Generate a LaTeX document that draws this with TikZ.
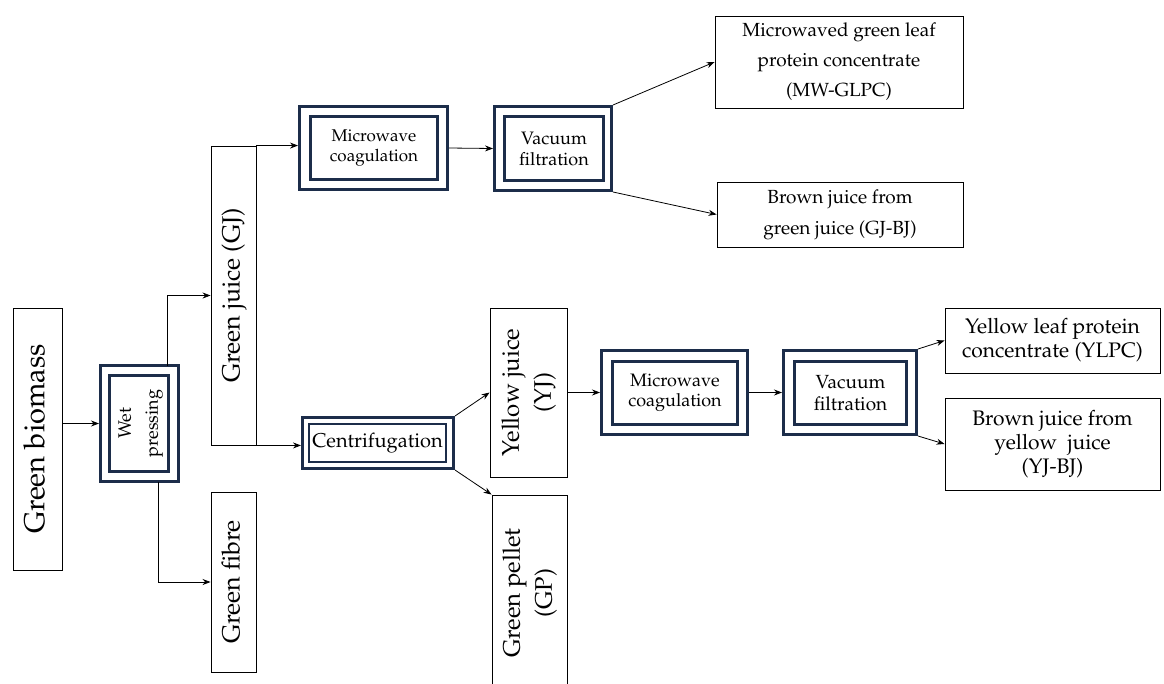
\documentclass[tikz,border=0pt]{standalone}
\usepackage[T1]{fontenc}
\usepackage{mathpazo}
\usepackage{graphicx}
\usetikzlibrary{arrows.meta}
\definecolor{navy}{RGB}{28,45,74}
\newcommand{\fs}[2]{\fontsize{#1}{#2}\selectfont}
\newcommand{\rt}[1]{\rotatebox{90}{\begin{tabular}{@{}c@{}}#1\end{tabular}}}
\begin{document}
\begin{tikzpicture}[x=1pt,y=-1pt,
  box/.style={draw=black, line width=0.9pt, inner sep=0pt, align=center},
  outerbox/.style={draw=navy, line width=3pt, inner sep=0pt},
  innerbox/.style={draw=navy, line width=3pt, inner sep=0pt, align=center},
  arr/.style={-{Stealth[length=8pt,width=6pt]}, line width=0.8pt},
  conn/.style={line width=0.8pt}]
\clip (0,0) rectangle (1164,683);
\fill[white] (0,0) rectangle (1164,683);

% product boxes
\node[box, font=\fs{29}{34}, minimum width=49, minimum height=262] (gb) at (37.5,439) {\rt{Green biomass}};
\node[box, font=\fs{25}{30}, minimum width=45, minimum height=299] (gj) at (233.5,295.5) {\rt{Green juice (GJ)}};
\node[box, font=\fs{25}{30}, minimum width=45, minimum height=180] (gf) at (233.5,582) {\rt{Green fibre}};
\node[box, font=\fs{24}{32}, minimum width=77, minimum height=169] (yj) at (528.5,392.5) {\rt{Yellow juice\\(YJ)}};
\node[box, font=\fs{24}{32}, minimum width=75, minimum height=196] (gp) at (529.5,593) {\rt{Green pellet\\(GP)}};
\node[box, font=\fs{19}{30}, minimum width=248, minimum height=92] (mw) at (839,62) {Microwaved green leaf\\protein concentrate\\(MW-GLPC)};
\node[box, font=\fs{19}{31}, minimum width=246, minimum height=65] (gjbj) at (840,214.5) {Brown juice from\\green juice (GJ-BJ)};
\node[box, font=\fs{21}{24}, minimum width=215, minimum height=65] (ylpc) at (1052.5,340.5) {Yellow leaf protein\\concentrate (YLPC)};
\node[box, font=\fs{21}{24}, minimum width=215, minimum height=92] (yjbj) at (1052.5,444) {Brown juice from\\yellow\ \ juice\\(YJ-BJ)};

% process boxes (double frame)
\node[outerbox, minimum width=78, minimum height=116] (wpo) at (139.5,423.5) {};
\node[innerbox, font=\fs{18}{27}, minimum width=59, minimum height=96] (wpi) at (139,423.5) {\rt{Wet\\pressing}};
\node[outerbox, minimum width=148, minimum height=83] (mc1o) at (373.5,148) {};
\node[innerbox, font=\fs{17}{20}, minimum width=127, minimum height=63] (mc1i) at (374,148) {Microwave\\coagulation};
\node[outerbox, minimum width=117, minimum height=84] (vf1o) at (553,148.5) {};
\node[innerbox, font=\fs{18}{21}, minimum width=99, minimum height=64] (vf1i) at (554,148.5) {Vacuum\\filtration};
\node[outerbox, minimum width=151, minimum height=51] (cfo) at (378,443) {};
\node[innerbox, font=\fs{20}{24}, line width=2pt, minimum width=137, minimum height=38] (cfi) at (377.5,443) {Centrifugation};
\node[outerbox, minimum width=146, minimum height=84] (mc2o) at (674.5,392.5) {};
\node[innerbox, font=\fs{18}{20}, minimum width=125, minimum height=63] (mc2i) at (675,393) {Microwave\\coagulation};
\node[outerbox, minimum width=133, minimum height=84] (vf2o) at (850,392.5) {};
\node[innerbox, font=\fs{19}{22}, minimum width=112, minimum height=63] (vf2i) at (850.5,393) {Vacuum\\filtration};

% branch points
\coordinate (wpT) at (167,365.5);
\coordinate (wpB) at (158,481.5);

% connectors
\draw[arr] (gb.east |- wpo.west) -- (wpo.west);
\draw[arr] (wpT) |- (gj.west);
\draw[arr] (wpB) |- (gf.west);
\draw[arr] (gj.north east) -- (mc1o.west |- gj.north east);
\draw[arr] (gj.south east) -- (cfo.west |- gj.south east);
\draw[arr] (mc1o.east) -- (vf1o.west);
\draw[arr] (vf1o.north east) -- (mw.west);
\draw[arr] (vf1o.south east) -- (gjbj.west);
\draw[arr] (cfo.north east) -- (yj.west);
\draw[arr] (cfo.south east) -- (gp.north west);
\draw[arr] (yj.east) -- (mc2o.west);
\draw[arr] (mc2o.east) -- (vf2o.west);
\draw[arr] (vf2o.north east) -- (ylpc.west);
\draw[arr] (vf2o.south east) -- (yjbj.west);
\end{tikzpicture}
\end{document}
